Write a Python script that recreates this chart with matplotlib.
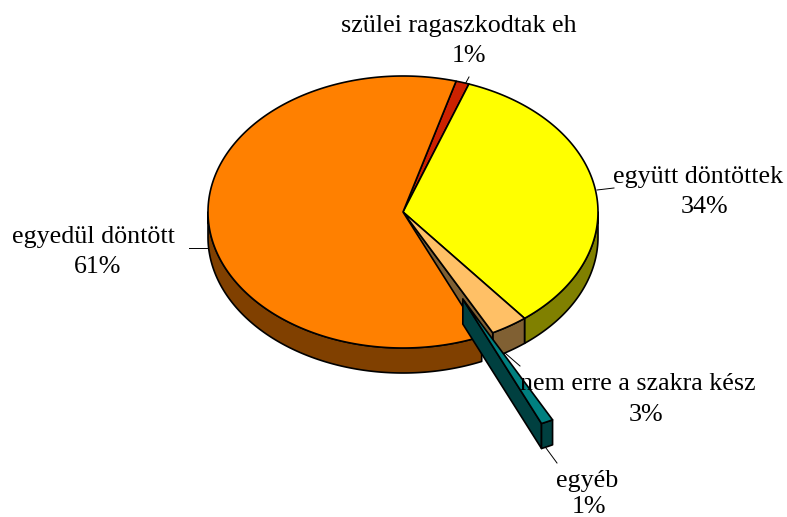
import numpy as np
import matplotlib
matplotlib.use('Agg')
import matplotlib.pyplot as plt
from matplotlib.patches import Polygon

plt.rcParams['font.family'] = ['Liberation Serif', 'DejaVu Serif']

# Dados do gráfico (ordem horária a partir do topo)
categorias = ['szülei ragaszkodtak eh', 'együtt döntöttek', 'nem erre a szakra kész', 'egyéb', 'egyedül döntött']
valores = [1.1, 33.8, 3.1, 1.0, 61.0]
rotulos_pct = ['1%', '34%', '3%', '1%', '61%']
explosao = [0, 0, 0, 0.71, 0]

cores_topo = ['#CC2200', '#FFFF00', '#FFC066', '#008080', '#FF8000']
cores_lado = ['#661100', '#808000', '#806033', '#004040', '#804000']

# Geometria da pizza em pixels
cx, cy = 403, 212
rx, ry = 195, 136
prof = 25
inicio = 74.2

fig = plt.figure(figsize=(7.87, 5.17), dpi=100)
ax = fig.add_axes([0, 0, 1, 1])
ax.set_xlim(0, 787)
ax.set_ylim(517, 0)
ax.axis('off')


def ponto(t, dx=0, dy=0):
    r = np.radians(t)
    return cx + dx + rx * np.cos(r), cy + dy - ry * np.sin(r)


def arco(t1, t2, dx=0, dy=0):
    ts = np.linspace(t1, t2, max(int(abs(t2 - t1)) * 2, 8))
    return [ponto(t, dx, dy) for t in ts]


def desenhar(pts, cor, z):
    ax.add_patch(Polygon(pts, closed=True, facecolor=cor, edgecolor='black', linewidth=1.2, zorder=z, joinstyle='round'))


# Calcular os ângulos das fatias
fatias = []
t = inicio
for v, e in zip(valores, explosao):
    t_ini = t
    t_fim = t - v * 3.6
    meio = np.radians((t_ini + t_fim) / 2)
    dx = e * rx * np.cos(meio)
    dy = -e * ry * np.sin(meio)
    fatias.append((t_ini, t_fim, dx, dy))
    t = t_fim

z = 1
# Fatias sem explosão primeiro: paredes, depois topos
for i, (t_ini, t_fim, dx, dy) in enumerate(fatias):
    if explosao[i] > 0:
        continue
    # parede externa visível (metade de baixo da elipse)
    vis_ini, vis_fim = min(t_ini, 0), max(t_fim, -180)
    if vis_ini > vis_fim:
        topo = arco(vis_ini, vis_fim, dx, dy)
        base = arco(vis_fim, vis_ini, dx, dy + prof)
        desenhar(topo + base, cores_lado[i], z)
    # face de corte ao lado da fatia destacada
    if explosao[(i + 1) % len(explosao)] > 0:
        c = (cx + dx, cy + dy)
        p = ponto(t_fim, dx, dy)
        desenhar([c, p, (p[0], p[1] + prof), (c[0], c[1] + prof)], cores_lado[i], z + 1)

z = 5
for i, (t_ini, t_fim, dx, dy) in enumerate(fatias):
    if explosao[i] > 0:
        continue
    desenhar([(cx + dx, cy + dy)] + arco(t_ini, t_fim, dx, dy), cores_topo[i], z)

# Fatia destacada por cima
z = 8
for i, (t_ini, t_fim, dx, dy) in enumerate(fatias):
    if explosao[i] == 0:
        continue
    c = (cx + dx, cy + dy)
    p = ponto(t_fim, dx, dy)
    desenhar([c, p, (p[0], p[1] + prof), (c[0], c[1] + prof)], cores_lado[i], z)
    desenhar(arco(t_ini, t_fim, dx, dy) + arco(t_fim, t_ini, dx, dy + prof), cores_lado[i], z + 1)
    desenhar([c] + arco(t_ini, t_fim, dx, dy), cores_topo[i], z + 2)

# Rótulos e linhas de chamada
pos_nomes = [(459, 32), (698, 183), (638, 390), (587, 487), (93, 243)]
pos_pct = [(469, 62), (704, 213), (646, 421), (589, 513), (98, 273)]
linhas = [((469, 77), (463, 88)), ((614, 188), (597, 190)), ((520, 366), (505, 353)),
          ((557, 463), (546, 448)), ((189, 248), (209, 248))]
for nome, pct, pn, pp, (p0, p1) in zip(categorias, rotulos_pct, pos_nomes, pos_pct, linhas):
    ax.text(pn[0], pn[1], nome, ha='center', va='baseline', fontsize=18.7, color='black', zorder=20)
    ax.text(pp[0], pp[1], pct, ha='center', va='baseline', fontsize=18.7, color='black', zorder=20)
    ax.plot([p0[0], p1[0]], [p0[1], p1[1]], color='black', linewidth=0.7, zorder=0.5)

fig.savefig('out.png', dpi=100)
